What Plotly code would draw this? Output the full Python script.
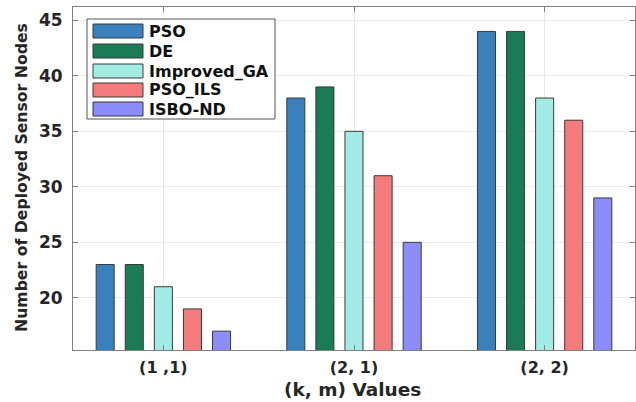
import plotly.graph_objects as go

categories = ["(1 ,1)", "(2, 1)", "(2, 2)"]
series_names = ["PSO", "DE", "Improved_GA", "PSO_ILS", "ISBO-ND"]
pso = [23, 38, 44]
de = [23, 39, 44]
improved_ga = [21, 35, 38]
pso_ils = [19, 31, 36]
isbo_nd = [17, 25, 29]
values = [pso, de, improved_ga, pso_ils, isbo_nd]
colors = ["#3a80bd", "#1b7b56", "#a3ece5", "#f47b7b", "#8c8cfa"]
y_ticks = [20, 25, 30, 35, 40, 45]

FONT = "DejaVu Sans, Liberation Sans, Arial"

fig = go.Figure()
for name, vals, col in zip(series_names, values, colors):
    fig.add_trace(go.Bar(
        x=categories, y=vals, name=name,
        marker=dict(color=col, line=dict(color="#3a3a3a", width=1)),
        showlegend=False,
    ))

# Manual legend (paper coordinates)
W, H = 636, 402
ml, mr, mt, mb = 73, 1, 7, 52
pw, ph = W - ml - mr, H - mt - mb

def px_to_paper(x, y):
    return (x - ml) / pw, 1 - (y - mt) / ph

shapes = []
annotations = []
x0, y0 = px_to_paper(87, 19)
x1, y1 = px_to_paper(275, 119)
shapes.append(dict(type="rect", xref="paper", yref="paper", x0=x0, y0=y1, x1=x1, y1=y0,
                   line=dict(color="#555555", width=1), fillcolor="white", layer="above"))
rows = [31, 51, 71, 90, 109]
for name, col, ry in zip(series_names, colors, rows):
    sx0, sy0 = px_to_paper(93, ry - 7)
    sx1, sy1 = px_to_paper(143, ry + 7)
    shapes.append(dict(type="rect", xref="paper", yref="paper", x0=sx0, y0=sy1, x1=sx1, y1=sy0,
                       line=dict(color="#3a3a3a", width=1), fillcolor=col, layer="above"))
    tx, ty = px_to_paper(147, ry)
    annotations.append(dict(xref="paper", yref="paper", x=tx, y=ty, text="<b>%s</b>" % name,
                            showarrow=False, xanchor="left", yanchor="middle",
                            font=dict(family=FONT, size=16, color="#111111")))

# axis titles as annotations for exact placement
ytx, yty = px_to_paper(22, 178)
annotations.append(dict(xref="paper", yref="paper", x=ytx, y=yty,
                        text="<b>Number of Deployed Sensor Nodes</b>", textangle=-90,
                        showarrow=False, xanchor="center", yanchor="middle",
                        font=dict(family=FONT, size=15.7, color="#262626")))
xtx, xty = px_to_paper(352, 389)
annotations.append(dict(xref="paper", yref="paper", x=xtx, y=xty,
                        text="<b>(k, m) Values</b>",
                        showarrow=False, xanchor="center", yanchor="middle",
                        font=dict(family=FONT, size=18.5, color="#262626")))

fig.update_layout(
    width=W, height=H,
    margin=dict(l=ml, r=mr, t=mt, b=mb, autoexpand=False),
    plot_bgcolor="white", paper_bgcolor="white",
    barmode="group", bargap=0.237, bargroupgap=0.38,
    shapes=shapes, annotations=annotations,
    font=dict(family=FONT, color="#262626"),
)
fig.update_xaxes(
    range=[-0.474, 2.474], automargin=False,
    tickvals=categories, ticktext=["<b>%s</b>" % c for c in categories],
    tickfont=dict(size=16, color="#262626"),
    showgrid=True, gridcolor="#e6e6e6", gridwidth=1,
    ticks="inside", ticklen=5, tickcolor="#808080",
    showline=True, linecolor="#808080", linewidth=1, mirror="ticks",
    ticklabelstandoff=3,
)
fig.update_yaxes(
    range=[15.3, 46.2], automargin=False,
    tickvals=y_ticks, ticktext=["<b>%d</b>" % v for v in y_ticks],
    tickfont=dict(size=17, color="#262626"),
    showgrid=True, gridcolor="#ececec", gridwidth=1,
    ticks="inside", ticklen=5, tickcolor="#808080",
    showline=True, linecolor="#808080", linewidth=1, mirror="ticks",
    zeroline=False, ticklabelstandoff=6,
)
fig.write_html("out.html", config={"displayModeBar": False},
               post_script="document.body.style.margin='0';document.body.style.padding='0';")
